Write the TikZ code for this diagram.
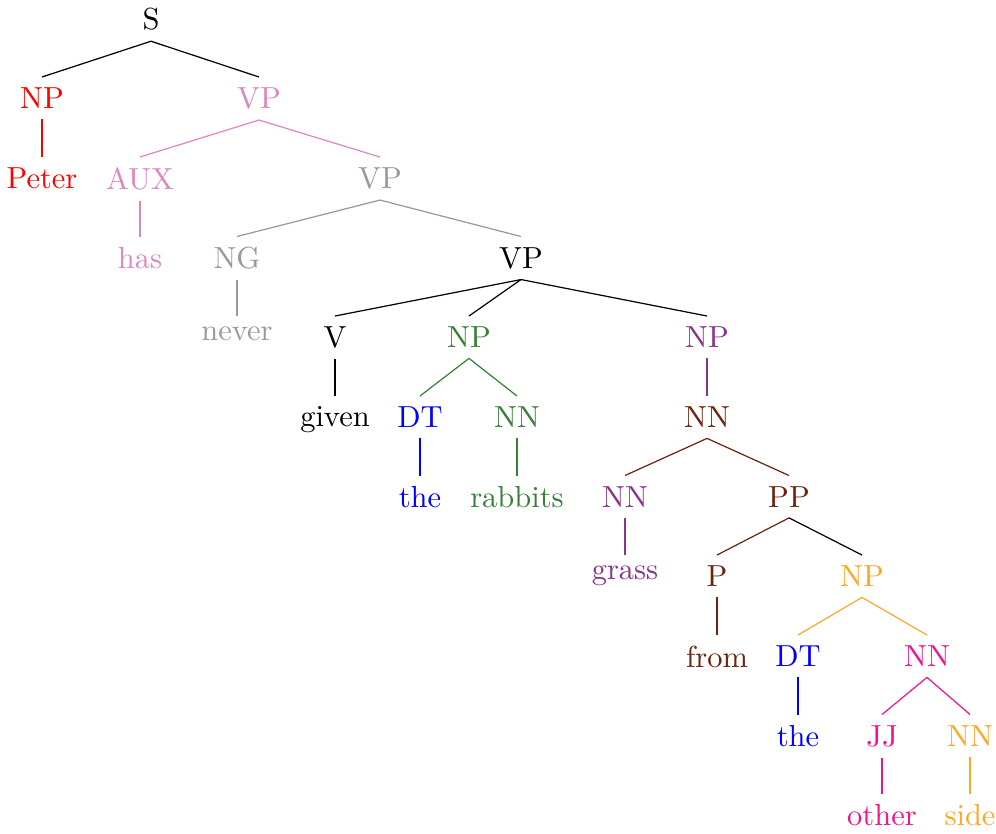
\documentclass[tikz,border=0pt]{standalone}
\definecolor{cpink}{rgb}{0.86,0.53,0.76}
\definecolor{cgray}{gray}{0.6}
\definecolor{cgreen}{rgb}{0.22,0.5,0.22}
\definecolor{cviolet}{rgb}{0.55,0.2,0.55}
\definecolor{cbrown}{rgb}{0.42,0.14,0.05}
\definecolor{corange}{rgb}{1,0.65,0.15}
\definecolor{cmag}{rgb}{0.93,0.08,0.55}
\begin{document}
\begin{tikzpicture}[x=0.328pt,y=-0.328pt, t/.style={anchor=north}, e/.style={line width=0.4pt}]
\useasboundingbox (0,0) rectangle (996,833);
% level 0
\node[t] (s) at (151,-2.5) {S};
% level 1
\node[t,red] (np1) at (42,77) {NP};
\node[t,cpink] (vp1) at (259,77) {VP};
% level 2
\node[t,red] (peter) at (42,157) {Peter};
\node[t,cpink] (aux) at (140,157) {AUX};
\node[t,cgray] (vp2) at (380,157) {VP};
% level 3
\node[t,cpink] (has) at (140,236.5) {has};
\node[t,cgray] (ng) at (237,236.5) {NG};
\node[t] (vp3) at (521,236.5) {VP};
% level 4
\node[t,cgray] (never) at (237,316) {never};
\node[t] (v) at (335,316) {V};
\node[t,cgreen] (np2) at (469,316) {NP};
\node[t,cviolet] (np3) at (707,316) {NP};
% level 5
\node[t] (given) at (335,396) {given};
\node[t,blue] (dt1) at (420,396) {DT};
\node[t,cgreen] (nn1) at (517,396) {NN};
\node[t,cbrown] (nn2) at (707,396) {NN};
% level 6
\node[t,blue] (the1) at (420,475.5) {the};
\node[t,cgreen] (rabbits) at (517,475.5) {rabbits};
\node[t,cviolet] (nn3) at (625,475.5) {NN};
\node[t,cbrown] (pp) at (789,475.5) {PP};
% level 7
\node[t,cviolet] (grass) at (625,555) {grass};
\node[t,cbrown] (p) at (717,555) {P};
\node[t,corange] (np4) at (862,555) {NP};
% level 8
\node[t,cbrown] (from) at (717,635) {from};
\node[t,blue] (dt2) at (798,635) {DT};
\node[t,cmag] (nn4) at (927,635) {NN};
% level 9
\node[t,blue] (the2) at (798,714.5) {the};
\node[t,cmag] (jj) at (882,714.5) {JJ};
\node[t,corange] (nn5) at (970,714.5) {NN};
% level 10
\node[t,cmag] (other) at (882,794) {other};
\node[t,corange] (side) at (970,794) {side};
% edges
\draw[e] (s.south) -- (np1.north);
\draw[e] (s.south) -- (vp1.north);
\draw[e,red] (np1.south) -- (peter.north);
\draw[e,cpink] (vp1.south) -- (aux.north);
\draw[e,cpink] (vp1.south) -- (vp2.north);
\draw[e,cpink] (aux.south) -- (has.north);
\draw[e,cgray] (vp2.south) -- (ng.north);
\draw[e,cgray] (vp2.south) -- (vp3.north);
\draw[e,cgray] (ng.south) -- (never.north);
\draw[e] (vp3.south) -- (v.north);
\draw[e] (vp3.south) -- (np2.north);
\draw[e] (vp3.south) -- (np3.north);
\draw[e] (v.south) -- (given.north);
\draw[e,cgreen] (np2.south) -- (dt1.north);
\draw[e,cgreen] (np2.south) -- (nn1.north);
\draw[e,blue] (dt1.south) -- (the1.north);
\draw[e,cgreen] (nn1.south) -- (rabbits.north);
\draw[e,cviolet] (np3.south) -- (nn2.north);
\draw[e,cbrown] (nn2.south) -- (nn3.north);
\draw[e,cbrown] (nn2.south) -- (pp.north);
\draw[e,cviolet] (nn3.south) -- (grass.north);
\draw[e,cbrown] (pp.south) -- (p.north);
\draw[e] (pp.south) -- (np4.north);
\draw[e,cbrown] (p.south) -- (from.north);
\draw[e,corange] (np4.south) -- (dt2.north);
\draw[e,corange] (np4.south) -- (nn4.north);
\draw[e,blue] (dt2.south) -- (the2.north);
\draw[e,cmag] (nn4.south) -- (jj.north);
\draw[e,cmag] (nn4.south) -- (nn5.north);
\draw[e,cmag] (jj.south) -- (other.north);
\draw[e,corange] (nn5.south) -- (side.north);
\end{tikzpicture}
\end{document}
